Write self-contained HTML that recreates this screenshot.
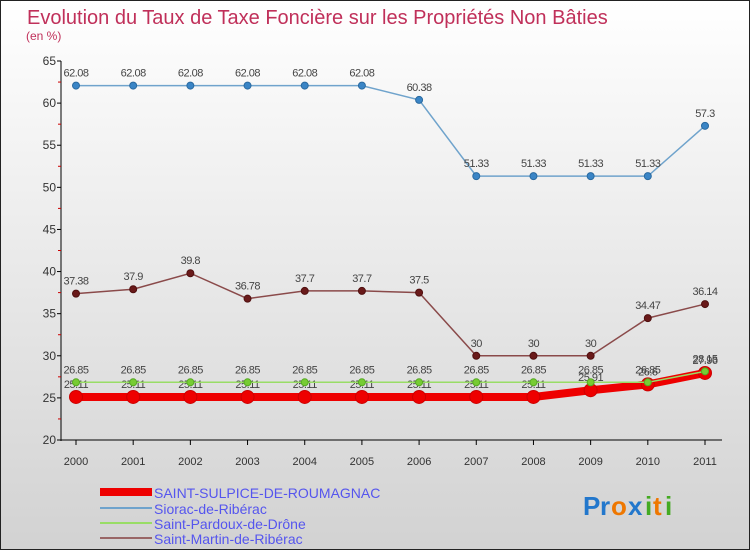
<!DOCTYPE html>
<html><head><meta charset="utf-8">
<style>
body{margin:0;width:750px;height:550px;overflow:hidden;font-family:"Liberation Sans",sans-serif;}
#wrap{position:absolute;left:0;top:0;width:748px;height:548px;border:1px solid #222;background:linear-gradient(#ffffff,#d2d2d2);}
</style></head>
<body>
<div id="wrap">
<svg id="chart" width="750" height="550" style="position:absolute;left:-1px;top:-1px">
<text x="27" y="24" font-size="20" fill="#c0305a">Evolution du Taux de Taxe Foncière sur les Propriétés Non Bâties</text>
<text x="26" y="40" font-size="12" fill="#c0305a">(en %)</text>
<g id="axes"></g><g id="series"></g>
<g>
<rect x="100" y="488" width="52" height="8" fill="#ee0000"/>
<text x="154" y="498" font-size="14" fill="#5555ee">SAINT-SULPICE-DE-ROUMAGNAC</text>
<rect x="100" y="507" width="52" height="2" fill="#6fa3cc"/>
<text x="154" y="514" font-size="14" fill="#5555ee">Siorac-de-Ribérac</text>
<rect x="100" y="522" width="52" height="2" fill="#99dd66"/>
<text x="154" y="529" font-size="14" fill="#5555ee">Saint-Pardoux-de-Drône</text>
<rect x="100" y="537" width="52" height="2" fill="#996666"/>
<text x="154" y="544" font-size="14" fill="#5555ee">Saint-Martin-de-Ribérac</text>
</g>
<g font-size="26" font-weight="bold">
<text x="583" y="515" fill="#2277cc">P</text><text x="600" y="515" fill="#2277cc">r</text><text x="611" y="515" fill="#ee7700">o</text><text x="628" y="515" fill="#2277cc">x</text><text x="645" y="515" fill="#44aa22">i</text><text x="653" y="515" fill="#ee7700">t</text><text x="665" y="515" fill="#44aa22">i</text>
</g>
</svg>
</div>
<script>
const years=[2000,2001,2002,2003,2004,2005,2006,2007,2008,2009,2010,2011];
const yTicks=[20,25,30,35,40,45,50,55,60,65];
const siorac=[62.08,62.08,62.08,62.08,62.08,62.08,60.38,51.33,51.33,51.33,51.33,57.3];
const martin=[37.38,37.9,39.8,36.78,37.7,37.7,37.5,30,30,30,34.47,36.14];
const pardoux=[26.85,26.85,26.85,26.85,26.85,26.85,26.85,26.85,26.85,26.85,26.85,28.15];
const sulpice=[25.11,25.11,25.11,25.11,25.11,25.11,25.11,25.11,25.11,25.91,26.6,27.96];
const NS='http://www.w3.org/2000/svg';
const x=i=>76+i*(705-76)/11;
const y=v=>440-(v-20)*(440-61)/45;
function mk(t,a,p){const e=document.createElementNS(NS,t);for(const k in a)e.setAttribute(k,a[k]);p.appendChild(e);return e;}
const ax=document.getElementById('axes');
let e=mk('line',{x1:61,y1:61,x2:61,y2:441,stroke:'#000'},ax);


e=mk('line',{x1:61,y1:440,x2:722,y2:440,stroke:'#000'},ax);


yTicks.forEach(v=>{mk('line',{x1:57,x2:61,y1:y(v),y2:y(v),stroke:'#000'},ax);
 if(v<65)mk('line',{x1:58,x2:61,y1:y(v+2.5),y2:y(v+2.5),stroke:'#c00'},ax);
 const t=mk('text',{x:56,y:y(v)+4,'text-anchor':'end','font-size':12,fill:'#333'},ax);t.textContent=v;
 
 });
years.forEach((yr,i)=>{mk('line',{x1:x(i),x2:x(i),y1:440,y2:445,stroke:'#000'},ax);
 const t=mk('text',{x:x(i),y:465,'text-anchor':'middle','font-size':11,fill:'#333'},ax);t.textContent=yr;
 
 });
const sg=document.getElementById('series');
function series(vals,name,color,w,r,dot,stroke){
 const g=mk('g',{},sg);
 
 
 mk('polyline',{points:vals.map((v,i)=>x(i)+','+y(v)).join(' '),fill:'none',stroke:color,'stroke-width':w},g);
 vals.forEach((v,i)=>{const c=mk('circle',{cx:x(i),cy:y(v),r:r,fill:dot,stroke:stroke,'stroke-width':1},g);
  
  
  const t=mk('text',{x:x(i),y:y(v)-9,'text-anchor':'middle','font-size':11,fill:'#444','letter-spacing':'-0.5'},g);
  t.textContent=String(v);
  
  });
}
series(siorac,'siorac','#6fa3cc',1.5,3.5,'#3a85c6','#2a6aa0');
series(martin,'saint-martin','#8a4a4a',1.5,3.5,'#6a1a1a','#501010');
series(sulpice,'saint-sulpice','#ee0000',8,6.5,'#ee0000','#cc0000');
series(pardoux,'saint-pardoux','#99dd66',1.5,3.5,'#77cc33','#55aa22');
</script>
</body></html>
